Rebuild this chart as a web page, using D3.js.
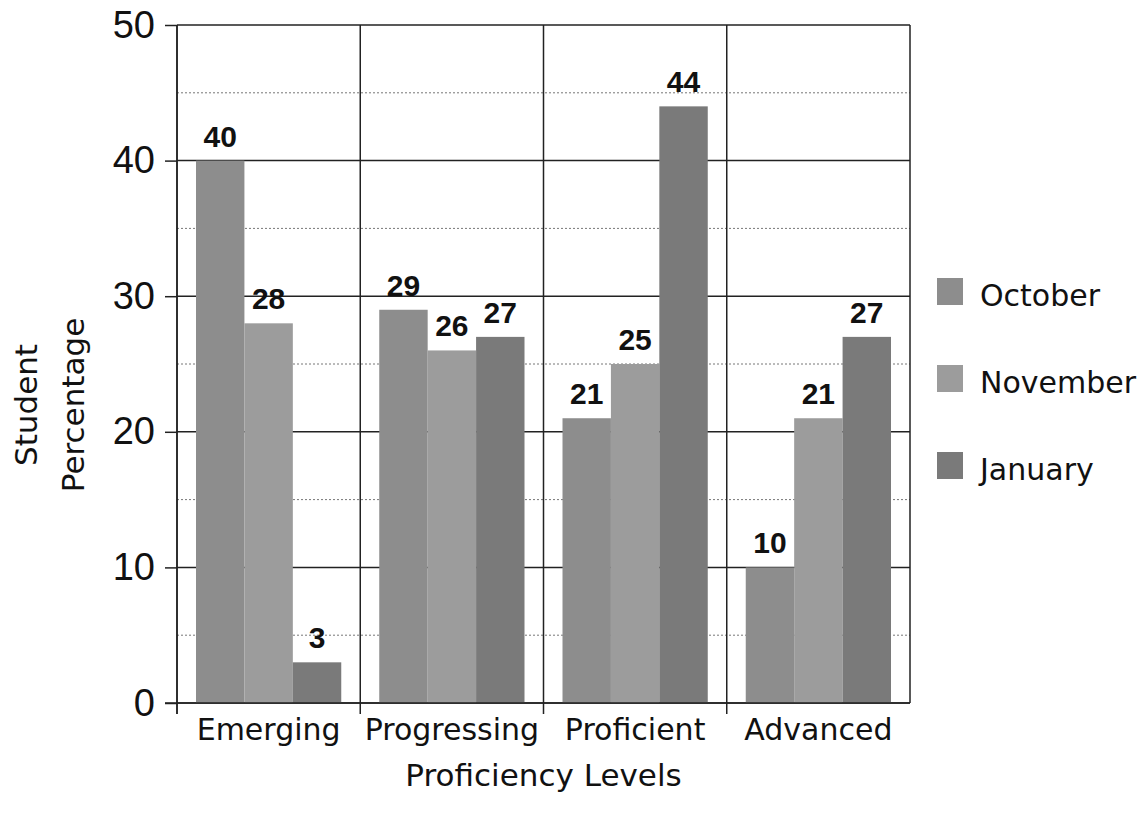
<!DOCTYPE html>
<html>
<head>
<meta charset="utf-8">
<script src="https://cdn.jsdelivr.net/npm/d3@7"></script>
<style>
  body { margin: 0; background: #fff; }
  svg { display: block; }
</style>
</head>
<body>
<svg id="chart" width="1141" height="825"></svg>
<script>
const categories = ["Emerging", "Progressing", "Proficient", "Advanced"];
const months = ["October", "November", "January"];
const october = [40, 29, 21, 10];
const november = [28, 26, 25, 21];
const january = [3, 27, 44, 27];
const yTicks = [0, 10, 20, 30, 40, 50];
const yMinor = [5, 15, 25, 35, 45];
const xTitle = "Proficiency Levels";
const yTitle = ["Student", "Percentage"];

(function () {
const seriesValues = [october, november, january];
const colors = ["#8d8d8d", "#9c9c9c", "#7a7a7a"];

const svg = d3.select("#chart");
const pLeft = 177, pRight = 910, pTop = 25, pBottom = 703;
const textFont = "'DejaVu Sans', sans-serif";
const numFont = "'Liberation Sans', Arial, sans-serif";

const x = d3.scaleBand().domain(categories).range([pLeft, pRight]).padding(0);
const xIn = d3.scaleBand().domain(months).range([19, x.bandwidth() - 19]).padding(0);
const y = d3.scaleLinear().domain([0, 50]).range([pBottom, pTop]);

// minor dotted gridlines
svg.append("g").selectAll("line").data(yMinor).join("line")
  .attr("x1", pLeft).attr("x2", pRight)
  .attr("y1", d => y(d)).attr("y2", d => y(d))
  .attr("stroke", "#777").attr("stroke-width", 1).attr("stroke-dasharray", "2,2");

// major gridlines
svg.append("g").selectAll("line").data(yTicks).join("line")
  .attr("x1", pLeft).attr("x2", pRight)
  .attr("y1", d => y(d)).attr("y2", d => y(d))
  .attr("stroke", "#222").attr("stroke-width", 1.5);

// vertical category separators (extend below axis as ticks)
const edges = categories.map(c => x(c)).concat([pRight]);
svg.append("g").selectAll("line").data(edges).join("line")
  .attr("x1", d => d).attr("x2", d => d)
  .attr("y1", pTop).attr("y2", (d, i) => i === edges.length - 1 ? pBottom : pBottom + 11)
  .attr("stroke", "#222").attr("stroke-width", 1.5);

// bars
const data = [];
categories.forEach((c, ci) => months.forEach((m, mi) => data.push({ c, m, mi, v: seriesValues[mi][ci] })));

svg.append("g").selectAll("rect").data(data).join("rect")
  .attr("x", d => x(d.c) + xIn(d.m))
  .attr("y", d => y(d.v))
  .attr("width", xIn.bandwidth())
  .attr("height", d => y(0) - y(d.v))
  .attr("fill", d => colors[d.mi]);

// value labels
svg.append("g").selectAll("text").data(data).join("text")
  .attr("x", d => x(d.c) + xIn(d.m) + xIn.bandwidth() / 2)
  .attr("y", d => y(d.v) - 14)
  .attr("text-anchor", "middle")
  .attr("font-family", numFont)
  .attr("font-weight", "bold")
  .attr("font-size", 30)
  .attr("fill", "#111")
  .text(d => d.v);

// y axis
const yAxis = d3.axisLeft(y).tickValues(yTicks).tickSize(12).tickPadding(10);
const gy = svg.append("g").attr("transform", `translate(${pLeft},0)`).call(yAxis);
gy.select(".domain").attr("d", `M0,${pTop}V${pBottom + 11}`).attr("stroke", "#222").attr("stroke-width", 1.5);
gy.selectAll(".tick line").attr("stroke", "#222").attr("stroke-width", 1.5);
gy.selectAll(".tick text").attr("font-family", numFont).attr("font-size", 38).attr("fill", "#111");

// x axis
const xAxis = d3.axisBottom(x).tickSize(0).tickPadding(0);
const gx = svg.append("g").attr("transform", `translate(0,${pBottom})`).call(xAxis);
gx.select(".domain").attr("d", `M${pLeft - 12},0H${pRight}`).attr("stroke", "#222").attr("stroke-width", 1.5);
gx.selectAll(".tick text").attr("font-family", textFont).attr("font-size", 30)
  .attr("fill", "#111").attr("dy", null).attr("y", 37);

// x title
svg.append("text").attr("x", (pLeft + pRight) / 2).attr("y", 786)
  .attr("text-anchor", "middle").attr("font-family", textFont).attr("font-size", 31)
  .attr("fill", "#111").text(xTitle);

// y title (two lines, rotated)
svg.append("g").selectAll("text").data(yTitle).join("text")
  .attr("transform", (d, i) => `translate(${i === 0 ? 37 : 84},405) rotate(-90)`)
  .attr("text-anchor", "middle").attr("font-family", textFont).attr("font-size", 31)
  .attr("fill", "#111").text(d => d);

// legend
const legend = svg.append("g").selectAll("g").data(months).join("g")
  .attr("transform", (d, i) => `translate(937,${278 + i * 87})`);
legend.append("rect").attr("width", 26).attr("height", 27)
  .attr("fill", (d, i) => colors[i]);
legend.append("text").attr("x", 43).attr("y", 28)
  .attr("font-family", textFont).attr("font-size", 30).attr("fill", "#111")
  .text(d => d);
})();
</script>
</body>
</html>
